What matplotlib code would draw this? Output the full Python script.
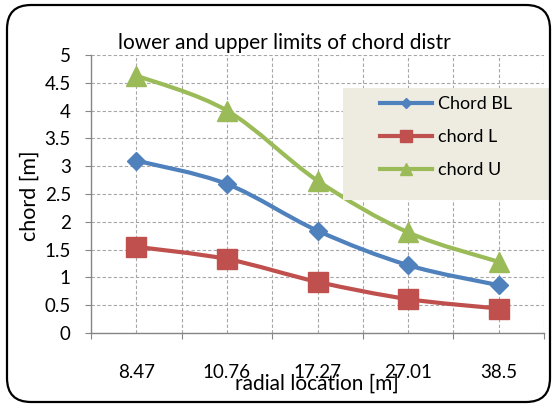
import matplotlib
matplotlib.use("Agg")
import matplotlib.pyplot as plt
from matplotlib.path import Path
from matplotlib.patches import PathPatch, FancyBboxPatch, Rectangle
from matplotlib.lines import Line2D
import numpy as np

plt.rcParams['font.family'] = ['Lato', 'DejaVu Sans']

categories = ["8.47", "10.76", "17.27", "27.01", "38.5"]
chord_bl = [3.10, 2.68, 1.84, 1.22, 0.86]
chord_l = [1.55, 1.33, 0.92, 0.61, 0.44]
chord_u = [4.63, 4.00, 2.74, 1.81, 1.28]

series = [
    ("Chord BL", chord_bl, "#4F81BD", "D", 9.2),
    ("chord L", chord_l, "#C0504D", "s", 14),
    ("chord U", chord_u, "#9BBB59", "^", 14),
]

W, H = 559, 405
fig = plt.figure(figsize=(W / 100, H / 100), dpi=100)
ax = fig.add_axes([91 / W, 1 - 333 / H, (544 - 91) / W, (333 - 55) / H])


def smooth_path(xs, ys):
    """Cubic Bezier path through the points (Catmull-Rom style smoothing)."""
    pts = np.column_stack([xs, ys]).astype(float)
    n = len(pts)
    verts = [pts[0]]
    codes = [Path.MOVETO]
    for i in range(n - 1):
        p0 = pts[i - 1] if i > 0 else pts[i]
        p1 = pts[i]
        p2 = pts[i + 1]
        p3 = pts[i + 2] if i + 2 < n else pts[i + 1]
        c1 = p1 + (p2 - p0) / 6.0
        c2 = p2 - (p3 - p1) / 6.0
        verts += [c1, c2, p2]
        codes += [Path.CURVE4] * 3
    return Path(verts, codes)


xpos = np.arange(len(categories))
for name, vals, color, marker, ms in series:
    ax.add_patch(PathPatch(smooth_path(xpos, vals), facecolor="none",
                           edgecolor=color, lw=3, capstyle="round",
                           joinstyle="round", zorder=3))
    ax.plot(xpos, vals, linestyle="none", marker=marker, markersize=ms,
            color=color, markeredgecolor=color, zorder=4)

ax.set_xlim(-0.5, len(categories) - 0.5)
ax.set_ylim(0, 5)
ax.set_yticks(np.arange(0, 5.01, 0.5))
ax.set_yticklabels(["0", "0.5", "1", "1.5", "2", "2.5", "3", "3.5", "4", "4.5", "5"])

ax.set_xticks(np.arange(-0.5, len(categories), 1.0))
ax.set_xticklabels([])
ax.set_xticks(xpos, minor=True)
ax.set_xticklabels(categories, minor=True)

grid_kw = dict(color="#A6A6A6", linestyle=(0, (3, 2)), linewidth=0.8)
ax.grid(True, which="major", axis="both", **grid_kw)
ax.grid(True, which="minor", axis="x", **grid_kw)
ax.set_axisbelow(True)

for s in ("top", "right"):
    ax.spines[s].set_visible(False)
for s in ("left", "bottom"):
    ax.spines[s].set_color("#868686")
    ax.spines[s].set_linewidth(1.0)

ax.tick_params(axis="y", which="major", direction="out", length=4.5,
               color="#868686", labelsize=13.5, pad=10)
ax.tick_params(axis="x", which="major", direction="out", length=4.5,
               color="#868686")
ax.tick_params(axis="x", which="minor", length=0, labelsize=13.5, pad=22)

fig.text(284 / W, 1 - 43 / H, "lower and upper limits of chord distr",
         ha="center", va="center", fontsize=15)
fig.text(317 / W, 1 - 384 / H, "radial location [m]",
         ha="center", va="center", fontsize=15)
fig.text(30 / W, 1 - 196 / H, "chord [m]", rotation=90,
         ha="center", va="center", fontsize=15.5)

# legend panel
fig.patches.append(Rectangle((343 / W, 1 - 200 / H), (549 - 343) / W,
                             (200 - 88) / H, transform=fig.transFigure,
                             facecolor="#EEECE1", edgecolor="none", zorder=5))
handles = [Line2D([0], [0], color=c, lw=3, marker=m, markersize=ms * 0.6)
           for _, _, c, m, ms in series]
leg = fig.legend(handles, [s[0] for s in series], loc="upper left",
                 bbox_to_anchor=(380 / W, 1 - 96 / H), frameon=False,
                 borderpad=0, borderaxespad=0, handlelength=2.9,
                 handletextpad=0.3, labelspacing=0.95, fontsize=13)
leg.set_zorder(6)

# rounded outer border
fig.patches.append(FancyBboxPatch((7 + 24, 3 + 24), W - 9 - 7 - 48, 400 - 3 - 48,
                                  boxstyle="round,pad=24", transform=None,
                                  facecolor="none", edgecolor="black",
                                  linewidth=1.6, zorder=10))

fig.savefig("out.png", dpi=100)
